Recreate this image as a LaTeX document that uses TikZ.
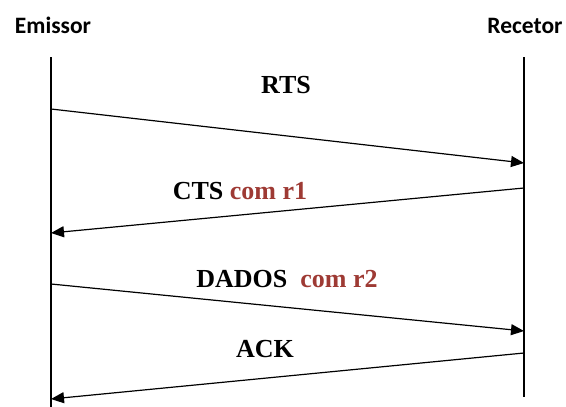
\documentclass[tikz,border=0pt]{standalone}
\usepackage{fontspec}
\setmainfont{Liberation Serif}
\newfontfamily\hdrfont{Carlito}
\usetikzlibrary{arrows.meta}
\definecolor{paramred}{RGB}{158,58,52}
\tikzset{
  lifeline/.style={line width=1.4pt, black},
  msg/.style={line width=1.2pt, black, -{Triangle[length=13pt,width=11pt]}},
  actor/.style={font=\hdrfont\bfseries\fontsize{23.5}{28}\selectfont, anchor=base, inner sep=0pt},
  msglabel/.style={font=\bfseries\fontsize{26}{30}\selectfont, anchor=base, inner sep=0pt},
}
\begin{document}
\begin{tikzpicture}[x=1pt,y=-1pt]
  \useasboundingbox (0,0) rectangle (566,407);
  % actors
  \node[actor] (em) at (53,33) {Emissor};
  \node[actor] (re) at (525,33) {Recetor};
  % lifelines
  \coordinate (emTop) at (51,57);
  \coordinate (emBot) at (51,407);
  \coordinate (reTop) at (524,57);
  \coordinate (reBot) at (524,397);
  \draw[lifeline] (emTop) -- (emBot);
  \draw[lifeline] (reTop) -- (reBot);
  % message end points on the lifelines
  \coordinate (rtsA) at (51,109);
  \coordinate (rtsB) at (524,163);
  \coordinate (ctsA) at (524,188);
  \coordinate (ctsB) at (51,233);
  \coordinate (datA) at (51,284);
  \coordinate (datB) at (524,331);
  \coordinate (ackA) at (524,353);
  \coordinate (ackB) at (51,399);
  % messages
  \draw[msg] (rtsA) -- (rtsB);
  \draw[msg] (ctsA) -- (ctsB);
  \draw[msg] (datA) -- (datB);
  \draw[msg] (ackA) -- (ackB);
  % labels
  \node[msglabel] (lrts) at (286,93) {RTS};
  \node[msglabel] (lcts) at (240,199) {CTS \textcolor{paramred}{com r1}};
  \node[msglabel] (ldat) at (287,287) {DADOS\ \ \textcolor{paramred}{com r2}};
  \node[msglabel] (lack) at (265,357) {ACK};
\end{tikzpicture}
\end{document}
